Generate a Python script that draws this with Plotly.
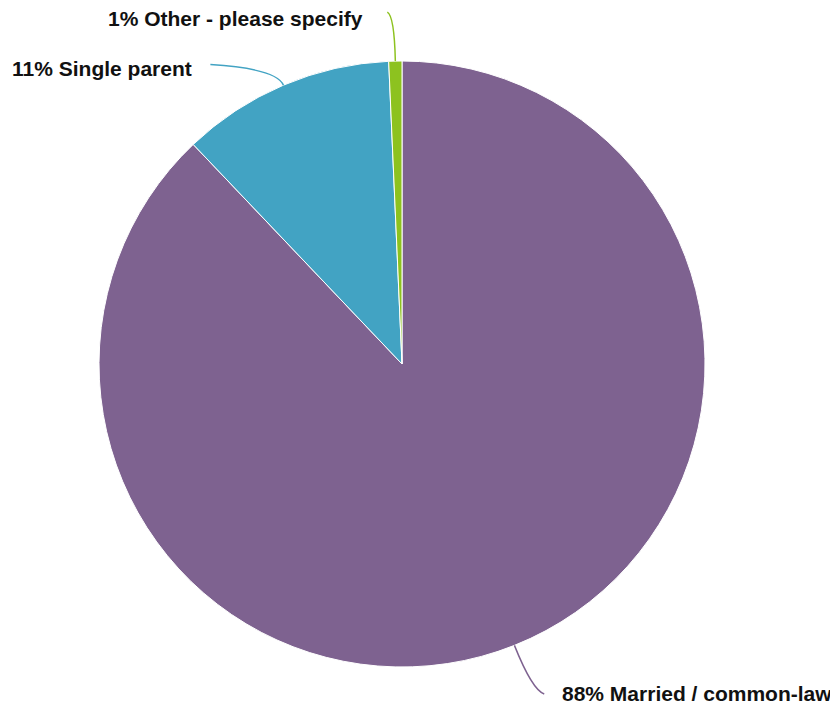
import math
import plotly.graph_objects as go

labels = ["Married / common-law", "Single parent", "Other - please specify"]
values = [87.9, 11.4, 0.7]
colors = ["#7E6290", "#42A3C3", "#8DC21F"]

OFF = 8  # page body margin
W, H = 838 - OFF, 712 - OFF
CX, CY, R = 402 - OFF, 364 - OFF, 303

fig = go.Figure(go.Pie(
    labels=labels, values=values, sort=False, direction="clockwise", rotation=0,
    marker=dict(colors=colors, line=dict(color="white", width=1)),
    textinfo="none", hoverinfo="label+percent", showlegend=False,
    domain=dict(x=[(CX - R) / W, (CX + R) / W], y=[1 - (CY + R) / H, 1 - (CY - R) / H]),
))

# leader line settings per slice: radial length, horizontal run, text side, gap, text dy
leaders = [(48, 12, "left", 16, 0), (18, -66, "right", -16, 4), (45, -7, "right", -22, 6)]

total = sum(values)
start = 0.0
shapes, annots = [], []
for lab, v, col, (rad, run, side, gap, tdy) in zip(labels, values, colors, leaders):
    mid = math.radians((start + v / 2) / total * 360)
    start += v
    dx, dy = math.sin(mid), -math.cos(mid)
    ex, ey = CX + R * dx, CY + R * dy
    kx, ky = ex + rad * dx, ey + rad * dy
    tx, ty = kx + run, ky + (4 if run > 0 else -4)
    p = lambda x, y: f"{x / W:.5f},{1 - y / H:.5f}"
    shapes.append(dict(type="path", xref="paper", yref="paper",
                       path=f"M{p(ex, ey)} Q{p(kx, ky)} {p(tx, ty)}",
                       line=dict(color=col, width=1.5)))
    pct = round(v / total * 100)
    annots.append(dict(x=(tx + gap) / W, y=1 - (ty + tdy) / H, xref="paper", yref="paper",
                       text=f"<b>{pct}% {lab}</b>", showarrow=False, xanchor=side,
                       yanchor="middle", font=dict(size=21, color="#111111")))

fig.update_layout(
    width=W, height=H, margin=dict(l=0, r=0, t=0, b=0),
    paper_bgcolor="white", plot_bgcolor="white",
    font=dict(family="Liberation Sans, Arial, sans-serif"),
    shapes=shapes, annotations=annots,
)

fig.write_html("out.html")
